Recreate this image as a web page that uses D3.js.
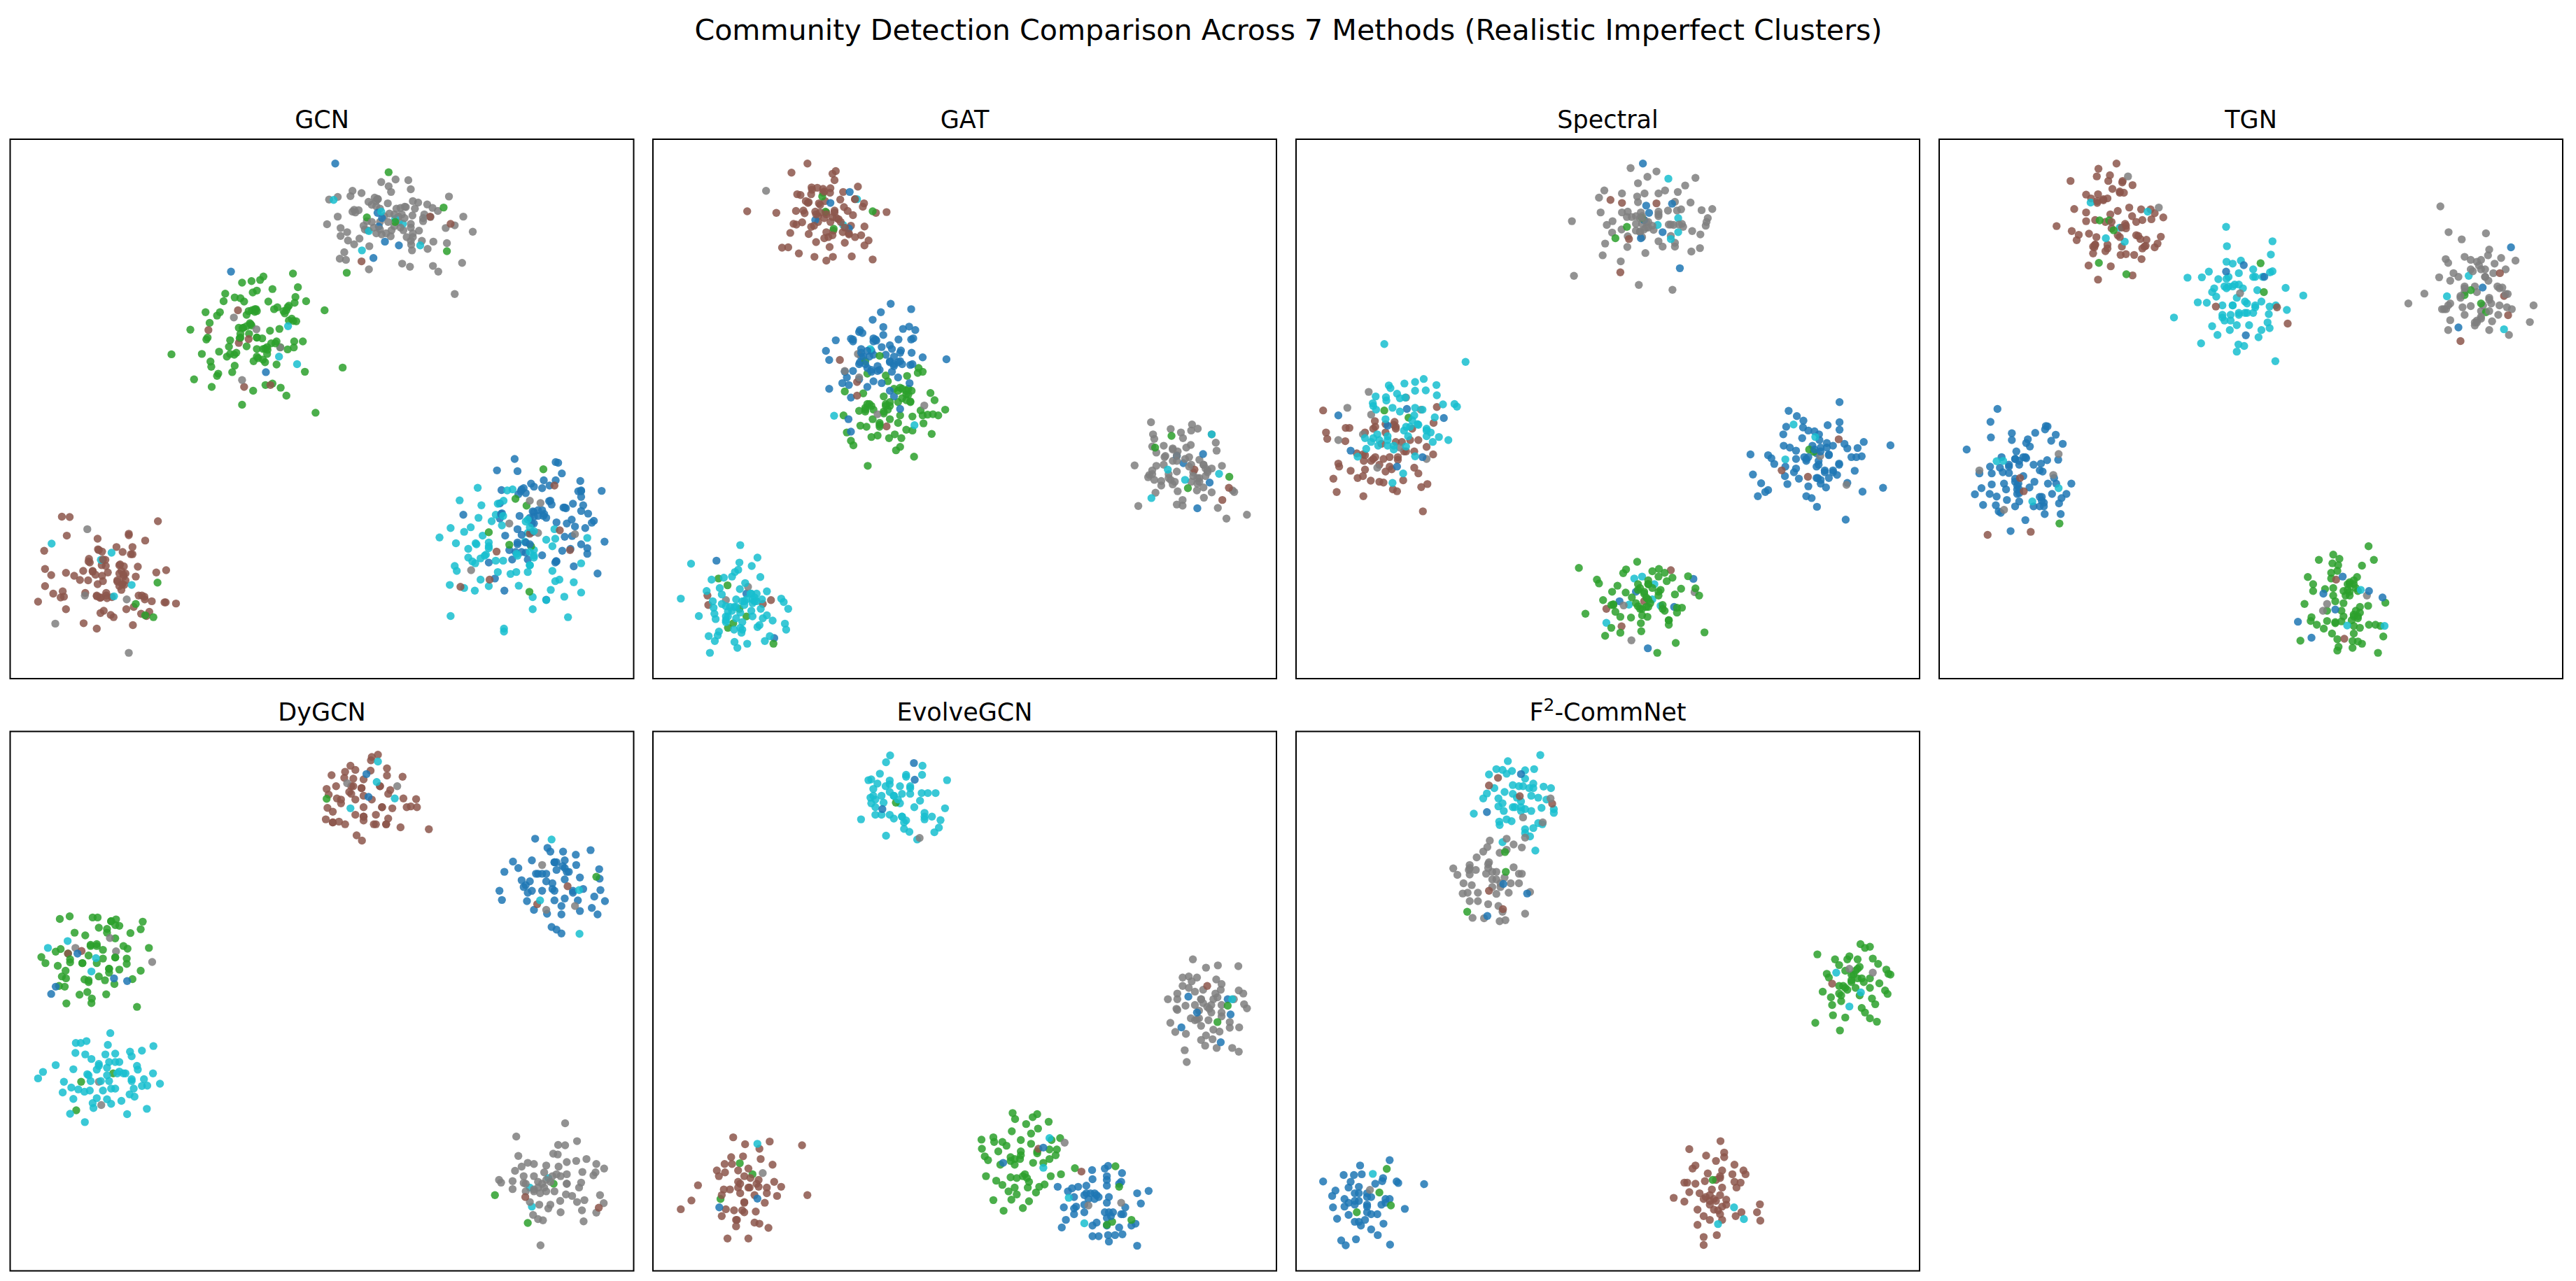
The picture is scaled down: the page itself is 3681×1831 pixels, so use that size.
<!DOCTYPE html>
<html>
<head>
<meta charset="utf-8">
<script src="https://cdn.jsdelivr.net/npm/d3@7"></script>
<style>
  body { margin: 0; background: #fff; }
  text { font-family: "DejaVu Sans", sans-serif; fill: #000; }
</style>
</head>
<body>
<div id="d3"></div>
<script>
// community labels: 0 blue, 1 green, 2 brown, 3 gray, 4 cyan
// every panel is a list of [community, [x, y, x, y, ...]] runs, drawn in order
const gcn = [
  [3, [928,240,963,233,994,235,946,251,952,266,1000,259,858,263,880,269,853,277,822,279,801,286,912,281,919,284,897,292,944,296,1093,278,1005,290,1018,294,988,306,975,308,1040,299,1053,308,1066,316,1033,325,1048,332,862,313,858,318,873,314,822,331,796,351,893,343,916,304,948,323,970,331,1004,328,1128,331,1030,343,1107,354,1085,361,1151,371,829,361,845,372,829,382,888,365,895,367,916,375,929,378,953,367,982,367,1000,360,1020,368,875,389,847,394,862,404,899,409,951,383,1005,385,1027,395,1055,397,1088,401,1001,405,1003,420,1041,416,838,425,827,442,842,445,898,470,979,455,998,463,1054,461,1067,476,1125,453,1107,535,960,356,925,345,971,345,978,325,925,310,935,330]],
  [0, [816,191,919,321,922,357,937,397,971,407,909,440,930,335]],
  [4, [812,287,928,318,962,337,981,350,898,369,881,420,1023,407]],
  [1, [946,214,1080,307,893,333,1088,422,844,479,962,345]],
  [2, [1097,350,880,449,1047,331]],
  [3, [905,300,915,290,945,345,960,325,985,335,1000,350,975,360,940,375,910,360,885,355,1005,375,1030,335,1010,310,905,345,920,285,865,320,1000,395,985,305,965,310,990,385,925,365]],
  [1, [641,489,713,481,633,498,612,501,589,505,725,517,663,522,625,526,615,531,548,534,571,544,585,546,594,555,544,554,653,555,719,543,745,554,717,558,790,578,703,566,675,570,667,575,697,578,693,586,623,575,613,578,620,582,600,590,500,583,535,583,528,592,510,611,608,612,714,606,721,607,703,605,581,624,592,624,612,618,463,629,657,632,680,627,585,640,505,650,502,655,560,657,583,652,625,650,638,652,606,640,673,660,716,660,737,660,557,674,600,673,625,680,645,679,651,682,682,675,700,681,715,676,417,694,491,693,533,687,552,700,560,693,570,695,650,693,617,712,628,704,645,715,673,721,512,713,571,724,514,727,565,741,531,745,528,751,742,740,834,729,472,760,515,780,646,775,663,771,683,782,616,790,697,803,589,827,768,848]],
  [0, [562,476,647,741]],
  [2, [579,578,507,630,581,664,605,654,594,780,658,775]],
  [3, [569,597,624,628,682,676,589,762]],
  [4, [701,620,679,700,723,720]],
  [1, [620,575,625,580,590,625,610,615,585,650,625,650,640,680,650,675,605,580,690,580,700,570,710,600,625,700,640,708,670,665,600,620,575,690,660,665]],
  [2, [150,1122,169,1123,384,1134,162,1172,237,1180,313,1167,313,1171,353,1185,107,1212,238,1208,283,1202,322,1202,248,1214,298,1215,318,1221,322,1221,216,1233,256,1236,218,1243,247,1250,257,1252,292,1248,301,1253,335,1254,109,1260,202,1265,225,1267,160,1270,262,1269,380,1269,404,1263,124,1276,180,1278,232,1275,290,1272,305,1272,330,1280,248,1278,194,1289,214,1290,285,1293,250,1292,109,1305,237,1300,297,1300,302,1302,152,1319,207,1323,129,1325,295,1315,147,1335,155,1333,235,1332,258,1323,243,1336,260,1337,272,1334,337,1330,351,1333,352,1340,92,1346,369,1345,400,1348,403,1348,428,1351,160,1366,307,1366,325,1360,252,1370,244,1376,363,1373,343,1378,356,1384,269,1381,276,1387,203,1403,235,1417,323,1408]],
  [3, [212,1155,134,1404,313,1481,206,1330,308,1340]],
  [4, [125,1193,271,1217,245,1236,320,1302,277,1332]],
  [1, [383,1296,330,1352,353,1382,373,1387]],
  [2, [290,1250,295,1265,300,1280,285,1290,297,1300,305,1290,240,1210,250,1235,258,1330,245,1335,235,1330,345,1330,225,1265,215,1240,290,1305,300,1275]],
  [0, [1253,970,1353,978,1359,980,1210,1000,1260,1002,1368,1008,1324,1026,1353,1026,1413,1028,1293,1035,1300,1043,1320,1047,1338,1040,1221,1052,1275,1047,1268,1055,1262,1063,1408,1055,1415,1053,1465,1054,1415,1070,1217,1087,1337,1081,1343,1090,1395,1088,1420,1092,1372,1098,1378,1100,1320,1105,1297,1108,1128,1117,1265,1120,1222,1113,1217,1127,1300,1122,1323,1120,1330,1125,1392,1130,1432,1114,1415,1107,1446,1133,1441,1138,1380,1140,1355,1137,1295,1140]],
  [4, [1163,1046,1235,1053,1248,1050,1119,1079,1172,1092,1212,1088,1226,1080,1207,1117,1197,1134,1165,1125,1146,1150,1097,1152,1070,1177,1130,1162,1175,1172,1110,1192,1158,1192,1190,1190,1140,1207,1222,1145,1280,1135,1285,1165,1350,1155,1352,1180,1330,1183,1430,1178,1278,1188,1300,1210,1345,1200]],
  [0, [1260,1155,1400,1148,1425,1152,1375,1175,1393,1173,1230,1172,1270,1170,1296,1163,1260,1195,1415,1195,1472,1188,1430,1205,1389,1207,1240,1210,1320,1224,1369,1212,1430,1220,1280,1217,1247,1235,1285,1235,1354,1239,1352,1243,1190,1243,1397,1253,1455,1272,1205,1285,1228,1317,1330,1341,1270,1215,1255,1215]],
  [4, [1190,1205,1183,1222,1140,1230,1207,1238,1170,1232,1157,1245,1225,1238,1300,1225,1258,1220,1107,1252,1112,1265,1170,1288,1212,1268,1243,1273,1257,1268,1285,1268,1345,1265,1290,1250,1415,1245,1095,1302,1130,1310,1156,1317,1190,1305,1263,1304,1352,1292,1362,1288,1397,1295,1341,1315,1415,1322,1297,1334,1374,1333,1297,1366,1097,1384,1383,1387,1227,1417,1227,1425,1330,1342]],
  [1, [1323,997,1255,1075,1282,1093,1190,1163,1240,1196,1289,1320,1293,1200]],
  [2, [1350,1040,1363,1158,1209,1214,1388,1210,1290,1167,1192,1288,1121,1307]],
  [3, [1290,1080,1316,1086,1240,1140,1310,1165,1400,1168,1147,1263]],
  [0, [1300,1110,1310,1120,1290,1125,1270,1050,1340,1080,1375,1098,1300,1140,1325,1115,1220,1115,1280,1060,1310,1105,1415,1055,1260,1190,1280,1190,1355,1240,1290,1195]],
  [4, [1190,1200,1290,1150,1300,1160,1285,1130,1300,1230,1290,1250,1160,1195,1180,1225,1290,1215,1260,1225,1150,1240,1225,1120]],
];

const gat = [
  [2, [399,191,360,215,468,211,460,218,465,235,522,252,409,254,423,255,437,258,455,256,374,272,382,274,408,272,437,268,486,266,454,268,515,285,479,286,402,293,427,296,442,290,537,296,534,305,488,306,252,317,323,321,371,316,389,315,392,322,418,318,445,320,465,315,497,316,592,319,566,321,510,327,425,330,440,335,460,332,475,338,365,350,372,352,386,346,408,358,425,345,505,355,538,357,357,374,402,377,445,372,462,368,485,372,500,378,515,385,440,388,548,394,420,398,453,411,490,400,538,407,337,413,352,412,378,428,416,437,461,437,445,447,507,436,558,444,530,380,395,290]],
  [3, [298,263]],
  [0, [502,266,455,295,500,362,418,340]],
  [1, [435,278,443,318,558,317,463,363]],
  [4, [486,353,520,285]],
  [2, [430,300,445,325,420,325,465,320,470,335,455,345,410,260,440,265,400,295,450,385,460,380,500,375,430,320,490,360,515,285,415,355,480,345]],
  [1, [670,730,680,740,668,743,590,750,642,751,545,745,595,765,625,782,645,785,490,792,610,785,640,800,653,790,699,796,535,797,709,815,585,805,640,815,650,820,525,843,545,825,555,830,590,825,600,830,620,820,735,840,675,842,540,845,560,840,595,840,585,850,625,855,655,858,680,855,692,853,705,852,718,855,487,855,558,865,600,865,682,876,575,885,528,882,543,885,620,875,640,893,655,895,495,900,555,912,570,908,598,915,612,905,702,904,628,915,505,922,511,934,615,947,625,938,659,964,546,988,575,875]],
  [0, [602,561,652,575,578,583,558,603,584,622,632,627,647,621,662,630,527,630,533,638,584,643,468,657,505,653,510,660,560,652,567,658,600,670,621,655,652,655,657,652,444,685,530,680,555,685,580,675,605,680,627,684,653,690,680,702,738,707,452,709,530,700,560,695,590,695,600,712,625,712,655,720,527,715,545,730,575,735,610,725,630,720,490,740,510,738,555,740,570,738,605,740,620,755,495,755,525,760,560,765,580,770,648,770,484,770,500,775,452,785,505,808,545,780,600,790,610,805,625,838,499,865,505,898]],
  [1, [540,712,575,698]],
  [2, [478,709,520,767,520,803,592,884]],
  [3, [522,693,490,738,525,755,684,829,570,852]],
  [4, [552,680,464,856,660,881]],
  [0, [530,690,545,685,560,660,535,700,540,720,555,735,600,715,610,720,625,690,565,655,525,635,620,715,510,655,550,700,570,725,610,700,525,720,650,722]],
  [1, [640,790,645,800,590,830,540,835,550,825,600,820,650,818,630,785,585,845,620,790,630,810,540,840,575,880]],
  [3, [1237,873,1337,879,1351,890,1285,891,1335,895,1310,900,1242,905,1385,905,1245,917,1315,915,1395,927,1334,933,1240,937,1268,935,1290,942,1323,940,1250,953,1397,948,1302,950,1272,962,1290,975,1330,965,1355,972,1197,987,1250,988,1268,985,1335,985,1365,985,1410,988,1240,1000,1300,1003,1375,1000,1385,995,1233,1012,1280,1010,1340,1005,1355,1020,1370,1015,1230,1018,1245,1025,1262,1028,1285,1025,1295,1030,1335,1030,1350,1035,1262,1040,1290,1037,1365,1045,1248,1059,1302,1055,1349,1053,1385,1058,1366,1072,1206,1094,1300,1090,1314,1078,1314,1093,1400,1099,1471,1117,1421,1127,1440,1057,1436,1053]],
  [1, [1287,909,1247,940,1428,1017,1327,1047]],
  [4, [1385,905,1403,1009,1320,1025,1238,1073,1278,998]],
  [0, [1364,957,1316,981,1300,962,1380,1032,1350,1100]],
  [2, [1343,998,1427,1046,1411,1078]],
  [3, [1290,945,1300,960,1270,965,1330,990,1365,985,1375,1005,1350,1020,1280,1020,1240,1010,1355,1030,1340,1015,1320,970,1300,975,1370,995]],
  [2, [155,1330,157,1355,310,1342,290,1352]],
  [0, [177,1238,250,1325,318,1442]],
  [1, [182,1285,204,1303,233,1365,250,1385,218,1403,205,1415,316,1457]],
  [3, [254,1307,200,1342]],
  [4, [235,1197,277,1230,233,1243,115,1246,263,1252,230,1262,222,1268,284,1281,165,1288,195,1283,215,1280,247,1297,185,1310,153,1318,234,1313,300,1319,190,1327,262,1325,275,1325,90,1338,168,1345,225,1340,250,1340,270,1345,288,1340,335,1338,341,1347,352,1365,190,1352,200,1358,220,1360,245,1355,265,1350,170,1362,205,1372,235,1375,262,1370,285,1365,172,1378,134,1384,175,1392,200,1385,225,1390,300,1382,290,1390,314,1396,240,1400,265,1385,200,1400,344,1404,347,1420,282,1408,277,1413,220,1420,240,1420,183,1425,238,1428,158,1437,180,1435,173,1450,221,1452,252,1457,295,1450,307,1437,228,1468,161,1481]],
  [4, [260,1325,270,1335,210,1360,215,1370,240,1345,205,1385,235,1415,265,1340,245,1345,275,1345,225,1360,200,1395]],
];

const spectral = [
  [3, [837,203,900,212,878,226,995,229,855,243,970,249,773,262,921,262,952,266,816,270,853,278,871,270,905,270,760,281,983,294,855,293,945,292,1036,311,1010,314,764,320,816,320,830,318,960,312,950,315,862,320,905,318,928,315,828,332,850,330,905,330,870,340,1025,335,1022,345,694,343,793,343,779,353,865,350,880,345,930,352,942,353,962,350,965,358,1020,355,815,365,850,368,875,360,893,366,792,373,987,369,1007,378,860,372,830,383,935,382,775,402,905,396,945,400,829,411,915,410,945,410,873,427,985,423,1006,414,769,433,813,449,699,487,857,511,939,524,865,385]],
  [0, [867,191,875,302,882,321,870,340,938,297,915,372,862,388,957,467]],
  [4, [929,231,903,353,953,335,953,372,935,390]],
  [2, [788,287,816,295,900,296,833,390,812,478]],
  [1, [828,358,800,388,865,335]],
  [3, [865,330,875,345,880,360,860,335,850,350,870,365,905,325,935,352,955,352,860,370,890,355,840,332]],
  [2, [88,842,357,875,214,870,262,872,240,878,143,888,152,888,210,890,265,885,95,900,190,900,305,890,98,917,142,923,170,955,185,958,300,920,265,925,320,920,340,938,230,930,280,925,310,950,356,958,290,950,215,965,235,970,250,965,270,972,125,982,127,990,187,975,205,975,225,985,155,1001,190,998,255,997,310,993,240,1003,320,1008,113,1022,172,1020,185,1015,204,1027,225,1030,235,1032,283,1026,342,1036,327,1044,258,1050,268,1055,121,1057,186,1068,331,1108,365,833]],
  [2, [215,885,265,890,240,900,210,970,270,965,190,960,250,990,285,950,260,880]],
  [3, [199,793,147,835,290,808,205,853,326,840,185,905,125,920,275,940,340,970,220,993]],
  [0, [125,855,292,838,382,862,245,882,155,948,330,965,268,990]],
  [1, [237,842,296,861]],
  [4, [237,667,435,714,333,759,312,767,286,771,248,776,252,783,364,775,312,790,338,789,268,798,216,805,241,807,288,808,365,802,242,816,209,823,210,830,275,810,380,826,408,825,414,832,312,835,330,840,217,840,257,835,360,860,275,845,310,855,305,868,240,865,290,885,318,878,340,890,350,900,285,895,220,905,190,915,205,925,245,910,295,910,340,910,355,925,370,912,393,920,222,935,245,935,260,945,290,937,193,943,172,964,312,963,257,1033,283,1008]],
  [4, [300,885,320,880,245,920,225,920,260,935,210,915,340,895]],
  [0, [1346,820,1222,843,1242,857,1258,869,1346,873,1216,885,1317,881,1257,887,1270,895,1285,897,1346,893,1209,905,1296,905,1255,915,1297,920,1315,928,1358,930,1405,925,1470,934,1210,935,1225,940,1240,948,1280,935,1300,940,1330,935,1365,942,1390,941,1129,958,1172,960,1180,968,1260,965,1290,955,1320,958,1375,965,1387,965,1400,963,1187,983,1240,970,1265,975,1295,975,1345,982,1214,990,1240,995,1290,990,1310,1000,1330,1000,1383,1001,1135,1011,1213,1015,1235,1005,1247,1022,1293,1020,1340,1012,1320,1020,1155,1034,1219,1036,1270,1042,1300,1035,1365,1033,1172,1052,1165,1057,1147,1068,1265,1068,1278,1073,1313,1045,1402,1056,1452,1046,1291,1096,1361,1130]],
  [4, [1234,879,1287,912,1214,971]],
  [1, [1272,945,1283,951]],
  [3, [1299,962,1363,1038]],
  [2, [1344,918,1205,1000,1269,1017]],
  [0, [1300,950,1320,960,1270,965,1265,970,1295,985,1310,1005,1330,1005,1300,1025,1290,1020,1345,985,1315,940,1285,945]],
  [2, [935,1263,778,1365,870,1345,815,1411]],
  [4, [846,1285,865,1280,895,1300,890,1340,910,1357,833,1354,778,1402]],
  [0, [990,1286,850,1320,810,1345,943,1360,879,1469]],
  [3, [993,1321,820,1356,839,1448]],
  [1, [853,1241,711,1257,826,1261,819,1271,906,1260,890,1266,920,1270,977,1279,939,1283,905,1280,755,1288,760,1298,880,1290,925,1292,805,1304,855,1300,880,1300,960,1312,995,1311,792,1320,825,1322,855,1315,870,1320,910,1315,1004,1330,945,1327,770,1342,840,1335,875,1335,905,1330,790,1355,855,1358,885,1350,915,1355,795,1353,950,1362,962,1362,800,1373,865,1365,880,1360,920,1370,727,1378,812,1386,838,1388,878,1386,950,1375,865,1382,930,1395,930,1407,862,1403,790,1415,863,1424,812,1428,775,1436,1017,1427,947,1455,902,1481]],
  [1, [860,1310,880,1300,870,1325,890,1310,880,1340,860,1365,850,1350,875,1360,905,1320,795,1355,915,1365,930,1395]],
];

const tgn = [
  [2, [452,191,408,205,436,222,404,225,340,237,432,237,467,237,491,248,466,241,442,258,460,268,470,268,378,273,407,272,390,283,430,283,420,288,405,295,483,307,349,311,512,312,535,312,545,322,378,320,455,316,490,330,437,325,566,333,537,338,378,343,515,340,500,345,473,350,425,345,400,340,306,356,343,369,475,362,440,362,360,379,385,376,403,385,525,392,505,382,560,384,355,393,455,380,400,405,510,390,430,405,552,402,523,408,545,412,398,412,515,415,465,410,425,422,395,428,495,432,462,432,475,430,513,443,384,460,438,462,407,497,491,486]],
  [3, [480,225,555,307]],
  [4, [389,294,528,318,460,360,426,388,472,397]],
  [1, [411,341,434,341,445,367,409,453,476,483]],
  [2, [400,405,395,410,465,360,475,355,440,345,405,290,420,285,460,265,500,380,520,410,430,415,460,385]],
  [4, [719,358,721,409,832,396,828,431,720,450,755,447,735,455,677,476,785,470,832,475,826,478,625,492,660,491,700,496,725,490,750,480,790,490,808,490,715,515,735,515,750,510,864,519,690,520,685,530,760,520,795,525,907,539,695,542,745,545,650,557,672,558,710,565,735,565,765,555,790,565,805,555,825,568,840,565,867,577,592,597,710,597,730,590,750,585,770,585,785,585,823,588,715,605,745,617,775,617,820,610,685,620,728,630,825,625,805,630,698,643,798,649,658,665,749,668,763,672,745,687,839,712]],
  [0, [762,459,719,476,812,490,767,644]],
  [1, [803,454,811,530]],
  [3, [753,533]],
  [2, [694,568,843,570,869,613]],
  [4, [725,515,740,510,720,495,785,490,735,565,770,560,790,570,710,590,730,605,750,590,720,520,765,585]],
  [3, [1241,304,1261,372,1352,375,1293,391,1360,418,1300,437,1389,440,1254,443,1424,447,1260,453,1315,445,1340,445,1357,433,1373,455,1400,470,1273,480,1315,470,1335,460,1350,470,1238,491,1265,500,1285,490,1350,490,1370,480,1358,500,1300,515,1325,515,1380,515,1392,518,1202,534,1300,530,1405,535,1163,560,1265,560,1290,545,1330,530,1360,545,1245,575,1255,575,1260,565,1295,570,1315,567,1345,565,1365,560,1385,565,1403,570,1468,565,1415,575,1300,590,1340,580,1382,590,1265,604,1340,600,1367,607,1459,609,1330,610,1325,618,1260,630,1360,630,1408,643]],
  [0, [1413,412,1344,518,1285,623]],
  [4, [1310,487,1257,541,1396,628]],
  [1, [1300,538,1315,525,1340,560,1352,583]],
  [2, [1386,480,1396,540,1406,591,1290,659]],
  [3, [1330,450,1340,470,1350,490,1320,475,1300,520,1360,550,1290,540,1250,575,1330,605,1340,595,1385,520,1400,535,1325,610,1360,580]],
  [0, [162,838,145,872,284,884,278,892,197,902,146,913,254,901,304,906,197,920,293,922,236,918,232,928,321,930,241,937,87,945,208,950,172,965,205,970,225,965,232,968,283,973,310,972,250,985,268,982,144,990,190,990,168,993,215,985,118,1008,148,1008,175,1005,265,1000,272,1003,190,1007,300,1020,205,1022,225,1015,252,1030,178,1035,148,1037,285,1035,342,1035,305,1035,213,1035,123,1047,183,1050,210,1050,240,1045,107,1063,143,1062,295,1062,330,1062,160,1069,210,1062,265,1070,318,1073,185,1078,215,1082,270,1080,127,1091,158,1092,312,1087,205,1095,250,1095,275,1095,165,1108,170,1112,277,1115,316,1115,230,1131,194,1160]],
  [0, [205,970,230,965,215,975,190,985,210,1040,215,1050,270,1070,275,1085,265,1095,205,1030,280,883,215,1060]],
  [4, [160,976,176,975,311,1047,247,1082]],
  [3, [118,1000,311,957,298,1012,178,1104]],
  [2, [217,1020,226,1055,138,1170,243,1162]],
  [1, [313,1140]],
  [1, [1066,1200,980,1222,945,1236,1079,1236,995,1233,978,1245,992,1250,1050,1251,975,1270,990,1265,918,1281,1038,1281,975,1285,931,1300,1020,1295,1030,1300,931,1318,960,1313,980,1310,1015,1315,1005,1318,1040,1318,980,1330,1020,1330,985,1345,1005,1350,1107,1349,910,1352,1045,1360,1065,1357,965,1370,1000,1370,1045,1375,1030,1380,927,1387,1005,1385,1040,1390,1025,1395,925,1397,965,1397,985,1403,1000,1398,1030,1410,940,1407,957,1417,1045,1415,1067,1407,1083,1407,1095,1410,1030,1430,977,1430,990,1445,1102,1438,900,1449,1027,1450,1040,1451,1050,1457,993,1465,990,1475,1027,1468,1089,1481]],
  [3, [1062,1330,965,1352,955,1370]],
  [1, [1020,1300,1030,1290,1010,1330,1035,1310,1040,1385,1030,1385,1035,1370,985,1400,1020,1320,1015,1300]],
  [2, [987,1288,1007,1444]],
  [0, [1003,1280,956,1325,1067,1318,1100,1335,985,1367,894,1399,927,1441]],
  [4, [1047,1315,1014,1409,1105,1410]],
];

const dygcn = [
  [2, [920,182,905,188,903,197,853,211,942,218,840,227,865,222,902,224,807,236,942,237,980,240,838,243,860,245,885,247,795,272,818,265,855,265,880,270,925,265,950,275,800,287,820,297,855,285,885,290,945,285,982,297,1013,299,830,310,865,300,905,300,990,320,1000,318,1015,320,797,322,810,332,885,320,930,320,955,323,865,340,885,345,915,340,793,352,810,360,825,358,840,365,885,355,945,350,910,365,940,365,975,373,1044,378,868,394,881,408]],
  [0, [892,233,897,293]],
  [3, [845,257,967,265]],
  [1, [795,298]],
  [2, [860,265,880,270,930,320,940,365,885,345,830,300,850,280,925,265,810,360,915,365]],
  [4, [920,200,917,254,961,297,853,323]],
  [0, [1303,403,1333,427,1340,437,1371,437,1438,433,1402,445,1249,463,1295,460,1350,465,1375,460,1403,472,1262,480,1228,490,1459,483,1305,495,1330,495,1355,485,1385,490,1412,505,1270,512,1290,515,1330,515,1375,510,1460,508,1275,530,1345,520,1395,540,1420,535,1462,538,1216,540,1285,545,1320,540,1350,540,1375,560,1222,564,1283,567,1350,565,1407,565,1447,555,1473,567,1300,590,1367,580,1441,585,1332,600,1412,593,1367,602,1455,602,1343,635,1355,642,1367,652]],
  [1, [1452,503]],
  [2, [1382,528,1308,575]],
  [3, [1320,472,1400,580,1330,590]],
  [0, [1350,465,1370,475,1380,490,1320,495,1310,495,1295,540,1345,535,1395,545,1280,525,1355,465,1375,480]],
  [4, [1343,405,1315,565,1410,538,1411,653]],
  [1, [169,607,145,614,225,610,237,610,282,615,270,620,347,621,290,632,240,637,342,641,181,650,317,651,207,657,260,650,280,665,220,682,235,685,250,695,300,685,135,700,147,693,362,690,310,692,100,714,165,705,215,710,250,718,280,715,308,718,110,730,170,728,200,730,235,730,140,737,308,732,265,745,290,747,159,750,342,750,150,765,205,773,240,765,265,755,160,770,215,780,278,785,322,772,255,775,143,790,157,792,212,806,193,813,258,812,223,823,161,836,222,835,333,845]],
  [3, [267,664,183,690,282,699,370,727]],
  [2, [165,705,198,698]],
  [0, [188,705,277,770,309,777,135,792,124,811]],
  [1, [270,620,280,630,220,685,235,680,170,720,200,730,280,715,265,745,215,775,260,640]],
  [4, [116,690,164,672,233,717,222,752]],
  [1, [197,1042,275,1020,185,1117]],
  [3, [240,1042,246,1103]],
  [4, [268,914,184,940,196,940,210,935,262,945,373,948,345,960,183,966,256,970,316,963,207,970,280,968,320,975,222,982,135,998,240,995,265,990,290,990,333,1000,104,1016,178,1009,235,1010,335,1010,212,1022,92,1033,260,1025,285,1020,305,1020,372,1020,155,1042,220,1040,265,1040,320,1035,350,1035,389,1047,345,1053,358,1052,173,1057,152,1070,190,1062,205,1068,218,1065,250,1065,280,1060,325,1060,178,1087,235,1085,260,1088,315,1075,327,1081,295,1092,225,1098,227,1111,270,1100,357,1113,170,1126,309,1127,206,1148]],
  [4, [240,1000,260,1005,280,990,290,1015,215,1025,245,1040,270,1060,320,1040,300,1020]],
  [4, [1335,1295,1290,1320,1295,1370]],
  [1, [1348,1310]],
  [3, [1376,1151,1257,1186,1405,1198,1359,1208,1376,1209,1347,1231,1358,1233,1262,1237,1428,1245,1285,1255,1403,1250,1380,1253,1300,1258,1330,1262,1452,1258,1270,1265,1360,1265,1471,1270,1254,1276,1418,1279,1325,1280,1355,1285,1450,1280,1445,1288,1275,1290,1300,1290,1380,1285,1215,1300,1248,1303,1220,1307,1275,1308,1310,1305,1340,1305,1380,1310,1415,1307,1248,1324,1300,1325,1325,1320,1410,1320,1350,1330,1280,1330,1315,1335,1378,1338,1393,1342,1461,1340,1290,1358,1364,1355,1313,1365,1340,1365,1405,1358,1423,1353,1470,1361,1335,1375,1365,1385,1417,1380,1452,1386,1298,1392,1310,1403,1322,1406,1421,1409,1316,1472]],
  [3, [1310,1320,1320,1310,1330,1300,1300,1330,1345,1290,1365,1290,1280,1310,1330,1330,1380,1310]],
  [2, [1279,1345,1458,1373]],
  [1, [1205,1340,1285,1413]],
];

const evolveGcn = [
  [4, [601,184,591,202,680,211,679,235,576,232,548,249,555,247,740,249,600,250,640,240,570,258,590,265,625,265,650,265,560,272,600,280,630,285,650,285,678,283,693,283,712,283,553,295,580,290,610,290,674,303,555,310,585,308,625,310,735,323,565,320,660,320,580,340,565,340,530,352,600,340,630,345,685,335,703,345,724,354,685,352,610,350,640,355,635,377,720,374,648,385,709,386,591,395,667,405]],
  [0, [659,204,661,248,582,325]],
  [1, [615,308]],
  [3, [673,401]],
  [4, [600,260,610,290,620,300,630,345,635,360,565,300,560,290,640,235,650,270,685,345]],
  [3, [1340,720,1372,742,1401,736,1451,738,1315,768,1330,765,1350,768,1337,778,1397,773,1410,785,1315,790,1330,795,1365,800,1302,810,1345,805,1395,810,1408,800,1452,802,1463,810,1279,825,1302,825,1360,825,1390,825,1440,825,1322,842,1345,840,1375,845,1410,840,1465,838,1472,849,1300,850,1355,855,1385,860,1302,853,1335,875,1350,878,1410,870,1378,880,1285,887,1360,895,1430,885,1430,900,1453,899,1390,905,1405,910,1297,911,1323,916,1372,920,1360,932,1388,930,1370,947,1398,953,1436,953,1452,963,1320,959,1325,990]],
  [3, [1360,825,1380,850,1355,875,1385,840,1400,820,1345,880,1410,860,1365,835]],
  [0, [1329,818,1425,825,1350,860,1432,865,1312,899,1408,938]],
  [1, [1425,842,1400,885]],
  [4, [1436,825]],
  [2, [1375,790]],
  [1, [900,1124,960,1127,949,1135,906,1140,988,1147,933,1153,962,1165,898,1172,945,1178,824,1194,853,1188,1016,1190,855,1200,875,1200,920,1195,995,1195,885,1210,945,1205,1008,1220,825,1218,865,1225,920,1225,960,1230,990,1220,832,1238,895,1240,918,1245,840,1248,1005,1235,990,1245,870,1260,905,1260,950,1255,975,1255,1052,1269,835,1290,895,1293,930,1285,1018,1285,993,1290,860,1302,910,1295,940,1305,978,1312,875,1313,905,1320,937,1320,965,1318,890,1330,957,1333,910,1338,897,1352,853,1353,940,1356,878,1381,925,1374]],
  [1, [905,1245,920,1235,895,1250,960,1225,925,1290,935,1295]],
  [4, [990,1190,975,1268]],
  [3, [1027,1202]],
  [2, [963,1218]],
  [0, [877,1255,975,1215]],
  [0, [1133,1263,1125,1270,1094,1274,1167,1282,1095,1298,1130,1290,1165,1305,1010,1318,1045,1322,1060,1318,1080,1315,1130,1315,1160,1310,1204,1335,1232,1329,1035,1330,1080,1335,1100,1335,1135,1345,1050,1345,1085,1350,1110,1345,1213,1362,1025,1372,1055,1370,1075,1365,1130,1360,1175,1372,1050,1390,1075,1385,1125,1385,1145,1385,1170,1390,1030,1405,1130,1400,1200,1415,1190,1420,1020,1425,1095,1420,1105,1412,1130,1420,1160,1425,1095,1448,1110,1448,1133,1445,1150,1445,1168,1443,1135,1462,1204,1473]],
  [1, [1151,1264,1160,1318,1190,1405,1130,1418,1143,1410]],
  [3, [1165,1360,1085,1367]],
  [4, [1037,1347,1075,1414]],
  [2, [1068,1278]],
  [0, [1090,1335,1105,1340,1100,1350,1135,1385,1140,1395,1050,1375,1130,1300,1165,1390,1075,1340]],
  [1, [234,1256,265,1285,187,1350]],
  [3, [290,1282]],
  [2, [218,1188,247,1206,307,1199,386,1209,282,1218,213,1240,242,1238,285,1245,197,1258,215,1258,314,1260,178,1275,230,1275,255,1270,183,1290,198,1280,260,1295,245,1290,132,1314,230,1305,280,1300,318,1305,195,1325,210,1325,230,1320,258,1320,280,1318,335,1318,325,1342,190,1340,235,1335,270,1340,300,1335,399,1340,116,1354,245,1358,295,1360,90,1377,200,1377,220,1380,245,1385,273,1383,190,1395,227,1405,270,1412,282,1415,225,1422,304,1426,204,1454,255,1454]],
  [2, [245,1360,240,1380,235,1310,255,1320,275,1310,300,1320,225,1405]],
  [4, [277,1205]],
  [0, [277,1349,184,1372]],
];

const f2CommNet = [
  [4, [617,183,538,199,510,220,525,222,548,225,580,223,602,220,492,234,535,232,580,245,600,258,625,266,643,270,505,270,550,262,575,265,600,270,530,280,487,284,478,297,515,297,550,285,595,290,612,295,632,300,525,310,570,305,515,318,550,320,580,325,620,322,650,325,528,330,570,330,650,335,455,337,595,330,535,352,517,358,547,357,612,362,518,367,580,378,622,365,600,375,580,388,592,397,525,412,605,434]],
  [4, [565,265,560,295,570,320,555,320,590,270]],
  [2, [514,243,492,263,567,291,646,311]],
  [0, [570,233,487,333]],
  [3, [642,297,575,347,623,360,580,400]],
  [3, [494,408,535,403,552,418,572,426,488,425,478,437,518,440,462,452,535,432,445,472,492,465,405,481,443,485,460,485,490,480,552,478,415,498,445,497,485,495,510,490,565,495,572,495,500,510,530,505,430,520,450,525,520,520,545,520,565,520,440,545,500,530,540,545,428,547,465,545,592,543,510,548,445,567,465,567,490,575,515,580,580,600,525,595,452,611,480,612,518,620,532,617]],
  [3, [500,490,510,510,520,530,490,470,445,480]],
  [1, [531,438,533,490,439,595]],
  [0, [527,522,488,606,585,547]],
  [2, [492,540,526,588]],
  [1, [1397,680,1408,690,1420,687,1292,707,1335,720,1370,712,1390,720,1427,718,1440,732,1315,758,1345,735,1395,740,1460,747,1320,768,1360,750,1385,750,1465,758,1470,760,1420,770,1345,790,1375,775,1400,770,1443,783,1305,805,1360,795,1385,795,1420,795,1457,802,1463,811,1325,820,1350,815,1395,815,1425,823,1328,840,1350,830,1433,838,1400,848,1408,860,1330,867,1360,873,1420,875,1287,887,1437,884,1347,907,1375,760]],
  [1, [1380,760,1375,780,1365,800,1390,770,1355,790,1365,720,1390,745,1405,780,1345,810]],
  [3, [1370,745,1427,755]],
  [4, [1338,755,1398,807,1370,844]],
  [2, [1328,784]],
  [2, [1056,1198,980,1219,1021,1236,1065,1228,1065,1240,1045,1250,995,1262,1090,1260,988,1270,1060,1275,1112,1275,1117,1285,1025,1283,1085,1285,968,1307,975,1307,1018,1303,1055,1295,1090,1305,995,1310,1105,1307,1035,1325,1060,1320,980,1332,1005,1335,1030,1340,1055,1340,1095,1320,942,1347,968,1357,1015,1350,1045,1355,1070,1352,1152,1364,1030,1365,1070,1365,1000,1378,1040,1378,1145,1385,1107,1385,1015,1395,1055,1390,1093,1395,1000,1418,1030,1405,1060,1405,1153,1407,1015,1450,1047,1445,1015,1471]],
  [2, [1040,1350,1050,1380,1030,1355,1020,1345,1060,1370,1045,1300,1055,1290]],
  [1, [1037,1300]],
  [4, [1089,1372,1113,1403,1050,1416]],
  [0, [250,1248,178,1262,138,1287,163,1287,182,1285,234,1295,88,1304,155,1305,232,1303,267,1304,271,1308,334,1311,118,1328,150,1320,175,1318,215,1310,110,1342,140,1350,165,1335,195,1335,240,1350,250,1350,150,1360,175,1355,205,1345,112,1372,140,1370,165,1365,195,1365,230,1365,287,1376,150,1392,195,1385,220,1390,122,1402,165,1410,190,1405,235,1415,180,1420,205,1430,221,1445,132,1459,168,1456,143,1472,251,1470]],
  [0, [175,1335,165,1355,195,1345,205,1390,175,1410,240,1360,195,1370]],
  [4, [209,1284]],
  [1, [243,1271,225,1333,253,1367,170,1385]],
  [3, [202,1326]],
];

const titles = ["GCN", "GAT", "Spectral", "TGN", "DyGCN", "EvolveGCN", "F2-CommNet"];
const panelData = [gcn, gat, spectral, tgn, dygcn, evolveGcn, f2CommNet];
// axis limits of each panel, in the units the points were read in
const xLimits = [[24, 1543], [22, 1543], [22, 1541], [20, 1539], [24, 1543], [22, 1544], [22, 1541]];
const yLimits = [[127, 1549], [127, 1549], [127, 1549], [127, 1549], [121, 1539], [121, 1539], [121, 1539]];
const communities = [0, 1, 2, 3, 4];
const palette = ["#1f77b4", "#2ca02c", "#8c564b", "#7f7f7f", "#17becf"];
const suptitle = "Community Detection Comparison Across 7 Methods (Realistic Imperfect Clusters)";

const chartWidth = 3681;
const chartHeight = 1831;
const panelLefts = [14.5, 933, 1852, 2771];
const panelTops = [199, 1045.5];
const panelWidth = 891;
const panelHeight = 771;

const color = d3.scaleOrdinal(communities, palette);

const svg = d3
  .select("#d3")
  .append("svg")
  .attr("width", chartWidth)
  .attr("height", chartHeight);

svg
  .append("text")
  .attr("x", 1841)
  .attr("y", 57)
  .attr("text-anchor", "middle")
  .style("font-size", "41.2px")
  .text(suptitle);

panelData.forEach((runs, i) => {
  const left = panelLefts[i % 4];
  const top = panelTops[Math.floor(i / 4)];

  const x = d3.scaleLinear().domain(xLimits[i]).range([left, left + panelWidth]);
  const y = d3.scaleLinear().domain(yLimits[i]).range([top, top + panelHeight]);

  const points = runs.flatMap(([community, flat]) =>
    d3.range(0, flat.length, 2).map((k) => ({
      community: community,
      x: flat[k],
      y: flat[k + 1],
    }))
  );

  const panel = svg.append("g").attr("class", "panel");

  panel
    .selectAll("circle")
    .data(points)
    .enter()
    .append("circle")
    .attr("cx", (d) => x(d.x))
    .attr("cy", (d) => y(d.y))
    .attr("r", 5.7)
    .attr("fill", (d) => color(d.community))
    .attr("fill-opacity", 0.85);

  panel
    .append("rect")
    .attr("x", left)
    .attr("y", top)
    .attr("width", panelWidth)
    .attr("height", panelHeight)
    .attr("fill", "none")
    .attr("stroke", "#000")
    .attr("stroke-width", 2);

  const title = panel
    .append("text")
    .attr("x", left + panelWidth / 2)
    .attr("y", top - 16)
    .attr("text-anchor", "middle")
    .style("font-size", "35px");

  // the 2 in F2-CommNet is a superscript
  if (titles[i].startsWith("F2")) {
    title.append("tspan").text("F");
    title.append("tspan").attr("dy", -14).style("font-size", "25px").text("2");
    title.append("tspan").attr("dy", 14).text(titles[i].slice(2));
  } else {
    title.text(titles[i]);
  }
});
</script>
</body>
</html>
